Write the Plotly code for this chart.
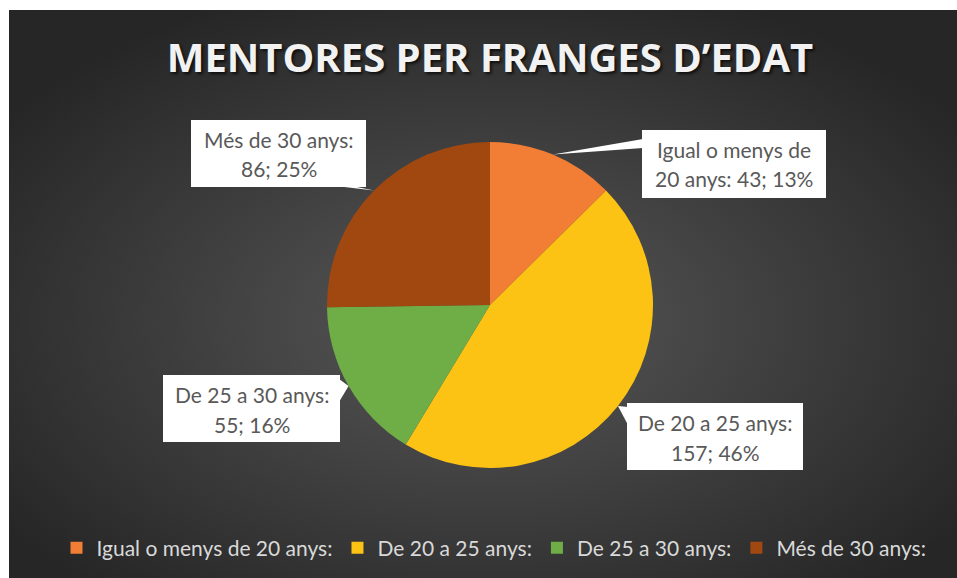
import math
import base64
import textwrap
import plotly.graph_objects as go

# ---- data ----
labels = ["Igual o menys de 20 anys:", "De 20 a 25 anys:", "De 25 a 30 anys:", "Més de 30 anys:"]
values = [43, 157, 55, 86]
colors = ["#F27E35", "#FCC214", "#6FAE47", "#A0480F"]
title_text = "MENTORES PER FRANGES D\u2019EDAT"

W, H = 957, 578

def px(x):
    return x / W

def py(y):
    return 1 - y / H

# pie geometry (screen pixels)
cx, cy, r = 490, 305, 163

# callout boxes (screen rects: x0, y0, x1, y1) and wedge base points on the box edge
boxes = [
    (642, 130, 826, 198),
    (627, 403, 803, 470),
    (163, 375, 340, 442),
    (191, 120, 366, 187),
]
bases = [
    ((643, 139), (643, 148)),
    ((628, 407), (628, 425)),
    ((339, 379), (339, 402)),
    ((336, 186), (352, 186)),
]

total = sum(values)
pcts = [round(v / total * 100) for v in values]

shapes = []
annotations = []
cum = 0
for i, v in enumerate(values):
    mid = (cum + v / 2) / total * 2 * math.pi
    cum += v
    tx = cx + r * math.sin(mid)
    ty = cy - r * math.cos(mid)
    (bx0, by0), (bx1, by1) = bases[i]
    path = (f"M {px(tx)},{py(ty)} L {px(bx0)},{py(by0)} "
            f"L {px(bx1)},{py(by1)} Z")
    shapes.append(dict(type="path", xref="paper", yref="paper", path=path,
                       fillcolor="white", line=dict(width=0), layer="above"))
    x0, y0, x1, y1 = boxes[i]
    shapes.append(dict(type="rect", xref="paper", yref="paper",
                       x0=px(x0), x1=px(x1), y0=py(y1), y1=py(y0),
                       fillcolor="white", line=dict(width=0), layer="above"))
    text = f"{labels[i]} {v}; {pcts[i]}%"
    lines = textwrap.wrap(text, width=16)
    bxc = (x0 + x1) / 2
    for j, ln in enumerate(lines):
        annotations.append(dict(
            text=ln, xref="paper", yref="paper",
            x=px(bxc), y=py(y0 + 19 + 30 * j),
            xanchor="center", yanchor="middle", showarrow=False,
            font=dict(family="Lato, Carlito, sans-serif", size=21, color="#595959"),
        ))

# background gradient image
svg = ("<svg xmlns='http://www.w3.org/2000/svg' width='948' height='568'>"
       "<defs><radialGradient id='g' cx='50%' cy='55%' r='62%'>"
       "<stop offset='0' stop-color='#585858'/>"
       "<stop offset='1' stop-color='#262626'/>"
       "</radialGradient></defs>"
       "<rect width='948' height='568' fill='url(#g)'/></svg>")
src = "data:image/svg+xml;base64," + base64.b64encode(svg.encode()).decode()

fig = go.Figure(go.Pie(
    labels=labels, values=values, sort=False, direction="clockwise",
    rotation=0, textinfo="none", hoverinfo="label+value+percent",
    marker=dict(colors=colors, line=dict(width=0)),
    domain=dict(x=[px(cx - r), px(cx + r)], y=[py(cy + r), py(cy - r)]),
))

fig.update_layout(
    width=W, height=H,
    margin=dict(l=0, r=0, t=0, b=0),
    paper_bgcolor="white",
    plot_bgcolor="rgba(0,0,0,0)",
    images=[dict(source=src, xref="paper", yref="paper",
                 x=px(9), y=py(10), sizex=948 / W, sizey=568 / H,
                 xanchor="left", yanchor="top", sizing="stretch", layer="below")],
    title=dict(text=title_text, x=px(490), xanchor="center",
               y=py(58), yanchor="middle",
               font=dict(family="Open Sans, sans-serif", size=40, color="#F2F2F2",
                         weight="bold", shadow="2px 2px 3px rgba(0,0,0,0.7)")),
    showlegend=True,
    legend=dict(orientation="h", x=px(494), xanchor="center",
                y=py(548), yanchor="middle",
                font=dict(family="Lato, sans-serif", size=21, color="#D9D9D9"),
                bgcolor="rgba(0,0,0,0)", itemwidth=30),
    shapes=shapes,
    annotations=annotations,
)

fig.write_html("out.html", config={"displayModeBar": False},
               post_script="document.body.style.margin='0';")
